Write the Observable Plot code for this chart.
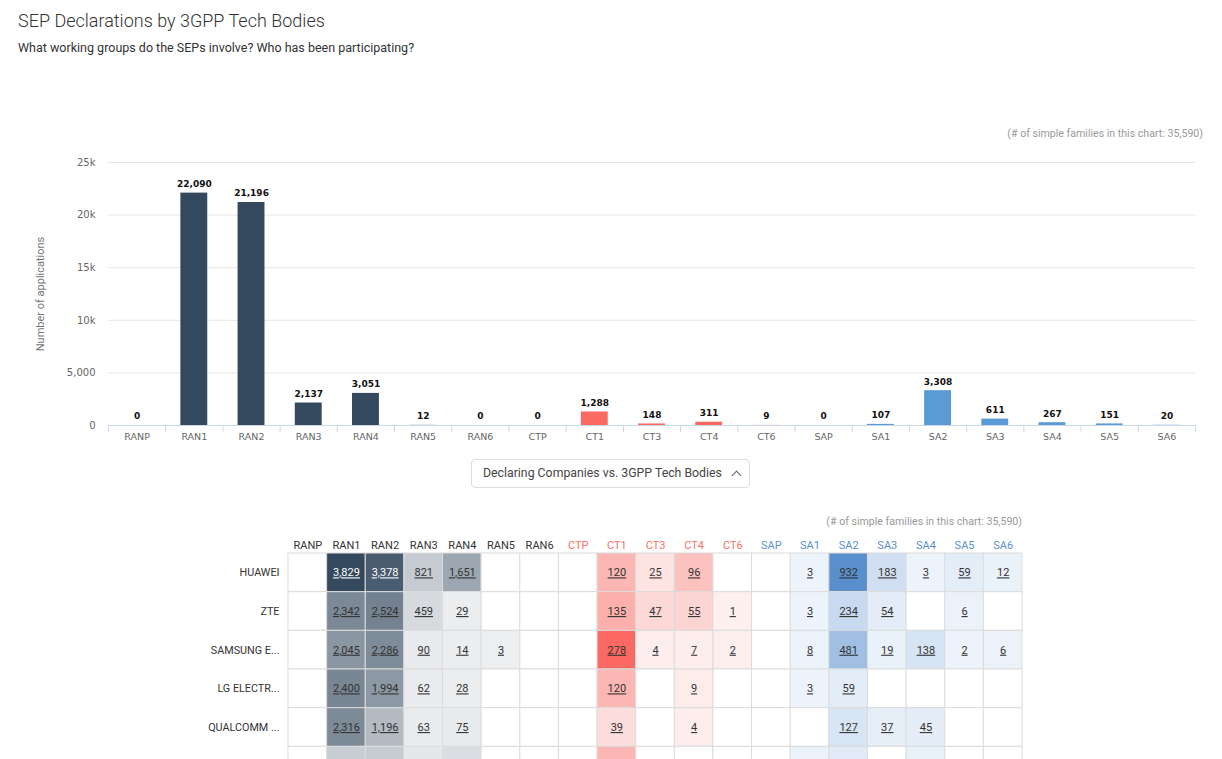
<!DOCTYPE html>
<html>
<head>
<meta charset="utf-8">
<script src="https://cdn.jsdelivr.net/npm/d3@7"></script>
<script src="https://cdn.jsdelivr.net/npm/@observablehq/plot@0.6"></script>
<style>
html, body { margin: 0; padding: 0; background: #fff; }
body { width: 1222px; height: 759px; overflow: hidden; position: relative; font-family: Roboto, sans-serif; }
#title { position: absolute; left: 18px; top: 10px; font-size: 18px; font-weight: 300; color: #333; white-space: nowrap; line-height: normal; }
#subtitle { position: absolute; left: 18px; top: 40px; font-size: 12.5px; color: #333; white-space: nowrap; line-height: normal; }
.note { position: absolute; font-size: 10.6px; color: #999; white-space: nowrap; line-height: normal; }
#note1 { right: 19px; top: 127px; }
#note2 { right: 200px; top: 515px; }
#bars { position: absolute; left: 0; top: 150px; }
#dropdown { position: absolute; left: 471px; top: 459px; width: 279px; height: 29px; border: 1px solid #ddd; border-radius: 4px; box-sizing: border-box; font-size: 12.3px; color: #444; line-height: 27px; padding-left: 11px; white-space: nowrap; }
#chev { position: absolute; left: 261px; top: 12px; width: 6px; height: 6px; border-left: 1px solid #666; border-top: 1px solid #666; transform: rotate(45deg); }
#heat { position: absolute; left: 0; top: 530px; width: 1222px; height: 229px; overflow: hidden; }
svg { display: block; }
</style>
</head>
<body>
<div id="title">SEP Declarations by 3GPP Tech Bodies</div>
<div id="subtitle">What working groups do the SEPs involve? Who has been participating?</div>
<div class="note" id="note1">(# of simple families in this chart: 35,590)</div>
<div id="bars"></div>
<div id="dropdown">Declaring Companies vs. 3GPP Tech Bodies<span id="chev"></span></div>
<div class="note" id="note2">(# of simple families in this chart: 35,590)</div>
<div id="heat"></div>
<script>
// ---- data ----
const bodies = ["RANP","RAN1","RAN2","RAN3","RAN4","RAN5","RAN6","CTP","CT1","CT3","CT4","CT6","SAP","SA1","SA2","SA3","SA4","SA5","SA6"];
const counts = [0,22090,21196,2137,3051,12,0,0,1288,148,311,9,0,107,3308,611,267,151,20];
const yTicks = [0,5000,10000,15000,20000,25000];
const yTickLabels = ["0","5,000","10k","15k","20k","25k"];

const companies = ["HUAWEI","ZTE","SAMSUNG E...","LG ELECTR...","QUALCOMM ...","NOKIA TEC..."];
const huawei   = [null,3829,3378,821,1651,null,null,null,120,25,96,null,null,3,932,183,3,59,12];
const zte      = [null,2342,2524,459,29,null,null,null,135,47,55,1,null,3,234,54,null,6,null];
const samsung  = [null,2045,2286,90,14,3,null,null,278,4,7,2,null,8,481,19,138,2,6];
const lg       = [null,2400,1994,62,28,null,null,null,120,null,9,null,null,3,59,null,null,null,null];
const qualcomm = [null,2316,1196,63,75,null,null,null,39,null,4,null,null,null,127,37,45,null,null];
const nokia    = [null,770,790,150,380,null,null,null,118,null,null,null,null,5,70,null,20,null,null];
const heatRows = [huawei, zte, samsung, lg, qualcomm, nokia];
const visibleRows = 5; // the last row is cut off by the page edge, only its cells show

// ---- styling ----
const groupOf = b => b.startsWith("RAN") ? "RAN" : b.startsWith("CT") ? "CT" : "SA";
const barColors = {RAN: "#34495e", CT: "#fa6a63", SA: "#5b9bd5"};
const heatMin = {RAN: "#eceef0", CT: "#fdf0ef", SA: "#ecf3fa"};
const heatMax = {RAN: "#34495e", CT: "#fa6a63", SA: "#5a8fcd"};
const headColors = {RAN: "#333", CT: "#f7706a", SA: "#5b8fd0"};
const fmt = d3.format(",");

const barData = bodies.map((b, i) => ({body: b, count: counts[i], group: groupOf(b)}));

const W = 1222, ML = 108, MR = 27;
const step = (W - ML - MR) / bodies.length;

const bars = Plot.plot({
  width: W, height: 305,
  marginLeft: ML, marginRight: MR, marginTop: 12, marginBottom: 30,
  style: {fontFamily: "'DejaVu Sans', sans-serif", background: "transparent", overflow: "visible"},
  x: {domain: bodies, paddingInner: 0.53, paddingOuter: 0.265, round: false},
  y: {domain: [0, 25000]},
  color: {domain: ["RAN","CT","SA"], range: [barColors.RAN, barColors.CT, barColors.SA]},
  marks: [
    Plot.gridY({ticks: yTicks, stroke: "#e6e6e6", strokeOpacity: 1}),
    Plot.barY(barData, {x: "body", y: "count", fill: "group"}),
    Plot.ruleY([0], {stroke: "#ccd6eb"}),
    Plot.axisX({ticks: bodies, tickSize: 7, dx: -step / 2, tickFormat: () => "", stroke: "#ccd6eb", label: null}),
    Plot.axisX({ticks: [bodies[bodies.length - 1]], tickSize: 7, dx: step / 2, tickFormat: () => "", stroke: "#ccd6eb", label: null}),
    Plot.axisX({ticks: bodies, tickSize: 0, tickPadding: 8, fontSize: 9.5, color: "#666", label: null}),
    Plot.axisY({ticks: yTicks, tickSize: 0, tickPadding: 13, tickFormat: d => yTickLabels[yTicks.indexOf(d)],
      fontSize: 10, color: "#666", label: "Number of applications", labelArrow: "none", labelAnchor: "center", labelOffset: 72}),
    Plot.text(barData, {x: "body", y: "count", text: d => fmt(d.count), dy: -9, fontWeight: "bold", fontSize: 9, fill: "#111"})
  ]
});
document.getElementById("bars").appendChild(bars);
d3.select(bars).selectAll('g[aria-label="y-axis label"] text')
  .text("Number of applications")
  .style("font-family", "Roboto, sans-serif").style("font-size", "11px").style("fill", "#777");

// ---- heatmap ----
const groupMax = {};
bodies.forEach((b, j) => {
  const g = groupOf(b);
  heatRows.forEach(r => { if (r[j] != null) groupMax[g] = Math.max(groupMax[g] || 0, r[j]); });
});
const cells = [];
heatRows.forEach((r, i) => bodies.forEach((b, j) => {
  const g = groupOf(b), v = r[j];
  const t = v == null ? null : v / groupMax[g];
  cells.push({
    row: i, company: companies[i], body: b, value: v,
    color: v == null ? "#ffffff" : d3.interpolateRgb(heatMin[g], heatMax[g])(t),
    textColor: (g === "RAN" && t > 0.75) ? "#ffffff" : "#333333"
  });
}));

const heat = Plot.plot({
  width: W, height: 255,
  marginLeft: 288, marginRight: 200, marginTop: 23, marginBottom: 0,
  style: {fontFamily: "Roboto, sans-serif", background: "transparent", overflow: "visible"},
  x: {domain: bodies, padding: 0, round: false, axis: null},
  y: {domain: companies, padding: 0, round: false},
  color: {type: "identity"},
  marks: [
    Plot.cell(cells, {x: "body", y: "company", fill: "color", stroke: "#dcdcdc", strokeWidth: 1, inset: 0}),
    Plot.text(bodies, {x: d => d, frameAnchor: "top", dy: -12, fill: d => headColors[groupOf(d)], fontSize: 11}),
    Plot.axisY({ticks: companies.slice(0, visibleRows), tickSize: 0, tickPadding: 9, fontSize: 10.8, color: "#333", label: null}),
    Plot.text(cells.filter(d => d.value != null && d.row < visibleRows), {x: "body", y: "company", text: d => fmt(d.value), fill: "textColor", fontSize: 11})
  ]
});
document.getElementById("heat").appendChild(heat);
const textGroups = d3.select(heat).selectAll('g[aria-label="text"]').nodes();
if (textGroups.length) d3.select(textGroups[textGroups.length - 1]).selectAll("text").style("text-decoration", "underline");
</script>
</body>
</html>
